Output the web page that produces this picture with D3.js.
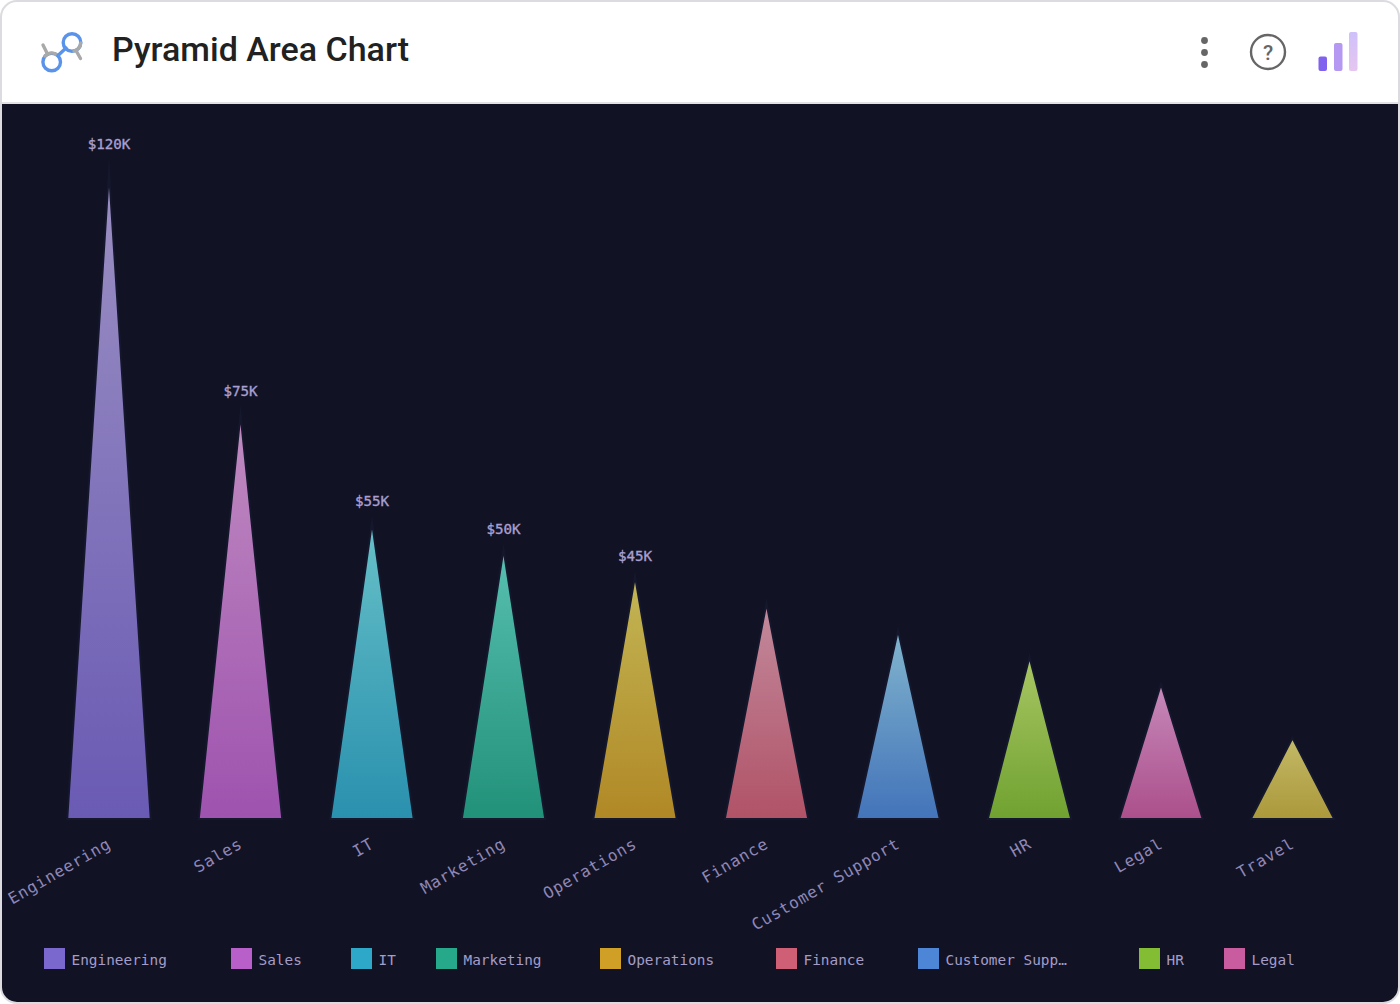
<!DOCTYPE html>
<html>
<head>
<meta charset="utf-8">
<script src="https://cdn.jsdelivr.net/npm/d3@7"></script>
<style>
html, body { margin: 0; padding: 0; background: #fff; }
svg { display: block; }
</style>
</head>
<body>
<svg id="chart" width="1400" height="1004"></svg>
<script>
const categories = ["Engineering", "Sales", "IT", "Marketing", "Operations", "Finance", "Customer Support", "HR", "Legal", "Travel"];
const budgets = [120, 75, 55, 50, 45, 40, 35, 30, 25, 15];
const colors = ["#7b68cf", "#b95fc9", "#2ea8c8", "#25a98a", "#cf9f26", "#cf5f74", "#4d86d6", "#82bd33", "#c95b9f", "#c9b23f"];
const tipColors = ["#a89bd0", "#cf96ce", "#6fd0d6", "#5fcfbd", "#d2c45a", "#d295a8", "#8cc4dc", "#b7d66a", "#d695c8", "#d2c86e"];
const labelledCount = 5;
const legendNames = ["Engineering", "Sales", "IT", "Marketing", "Operations", "Finance", "Customer Supp…", "HR", "Legal"];
const legendOffsets = [44, 231, 351, 436, 600, 776, 918, 1139, 1224];

const svg = d3.select("#chart");
const mono = "'DejaVu Sans Mono', monospace";
const defs = svg.append("defs");

// Card with a white header and dark plot panel
svg.append("rect").attr("x", 1).attr("y", 1).attr("width", 1398).attr("height", 1002).attr("rx", 16)
  .attr("fill", "#fff").attr("stroke", "#dcdce0").attr("stroke-width", 2);
defs.append("clipPath").attr("id", "panelClip").append("rect")
  .attr("x", 2).attr("y", 2).attr("width", 1396).attr("height", 1000).attr("rx", 15);
const panel = svg.append("g").attr("clip-path", "url(#panelClip)");
panel.append("rect").attr("x", 2).attr("y", 102).attr("width", 1396).attr("height", 2).attr("fill", "#e2e2e6");
panel.append("rect").attr("x", 2).attr("y", 104).attr("width", 1396).attr("height", 900).attr("fill", "#111324");

// Header: title, logo, menu dots, help badge, bars badge
svg.append("text").attr("x", 112).attr("y", 61).attr("font-family", "Roboto, sans-serif")
  .attr("font-size", 34).attr("font-weight", 500).attr("fill", "#212121").text("Pyramid Area Chart");

const logo = svg.append("g").attr("fill", "none").attr("stroke-width", 3.4).attr("stroke-linecap", "round");
logo.append("circle").attr("cx", 72).attr("cy", 42.5).attr("r", 8.8).attr("stroke", "#5a93ea");
logo.append("circle").attr("cx", 51.7).attr("cy", 62).attr("r", 8.8).attr("stroke", "#5a93ea");
logo.append("path").attr("d", "M43 45L47.5 54M45 56A8.8 8.8 0 0 1 56 54.3").attr("stroke", "#a9a9a9");
logo.append("path").attr("d", "M76 50.5L80.5 58.5M80.7 43A8.8 8.8 0 0 1 74 51").attr("stroke", "#a9a9a9");
logo.append("path").attr("d", "M58 55.5L66 48").attr("stroke", "#5a93ea");

svg.append("g").attr("fill", "#666").selectAll("circle").data([40.5, 52.5, 64.5]).join("circle")
  .attr("cx", 1204.5).attr("cy", d => d).attr("r", 3.4);
svg.append("circle").attr("cx", 1268).attr("cy", 52).attr("r", 17).attr("fill", "none").attr("stroke", "#666").attr("stroke-width", 2.4);
svg.append("text").attr("x", 1268).attr("y", 59.5).attr("text-anchor", "middle").attr("font-family", "Roboto, sans-serif")
  .attr("font-size", 21).attr("font-weight", 500).attr("fill", "#666").text("?");

const badge = defs.append("linearGradient").attr("id", "badgeTall").attr("x1", 0).attr("x2", 0).attr("y1", 0).attr("y2", 1);
badge.append("stop").attr("offset", "0%").attr("stop-color", "#cfc0fa");
badge.append("stop").attr("offset", "100%").attr("stop-color", "#e6c6f0");
[[1318.5, 56.5, 8.5, 14.5, "#8062ee"], [1334, 43, 8.5, 28, "#b598f2"], [1349, 32, 8.5, 39, "url(#badgeTall)"]].forEach(b => {
  svg.append("rect").attr("x", b[0]).attr("y", b[1]).attr("width", b[2]).attr("height", b[3]).attr("rx", 2).attr("fill", b[4]);
});

// Pyramid marks: the outline is painted over the fill, so it trims each visible tip
const x = d3.scaleBand().domain(categories).range([43.25, 1358.25]).paddingInner(0.365).paddingOuter(0.1825);
const y = d3.scaleLinear().domain([0, 120]).range([819, 172]);
const labelY = d3.scaleLinear().domain([0, 120]).range([808.5, 149]);

categories.forEach((c, i) => {
  const g = defs.append("linearGradient").attr("id", "pyr" + i).attr("gradientUnits", "userSpaceOnUse")
    .attr("x1", 0).attr("x2", 0).attr("y1", y(budgets[i])).attr("y2", y(0));
  g.append("stop").attr("offset", "0%").attr("stop-color", tipColors[i]).attr("stop-opacity", 0.92);
  g.append("stop").attr("offset", "100%").attr("stop-color", colors[i]).attr("stop-opacity", 0.84);
});

const outline = d => {
  const cx = x(d.c) + x.bandwidth() / 2, half = x.bandwidth() / 2;
  return d3.line()([[cx - half, y(0)], [cx, y(d.v)], [cx + half, y(0)]]) + "Z";
};
const rows = categories.map((c, i) => ({ c, v: budgets[i], i }));

svg.append("g").selectAll("path").data(rows).join("path")
  .attr("d", outline)
  .attr("fill", d => `url(#pyr${d.i})`)
  .attr("stroke", "#15182d").attr("stroke-width", 2).attr("stroke-linejoin", "miter").attr("stroke-miterlimit", 40);

// Value labels on the leading categories
svg.append("g").selectAll("text").data(rows.slice(0, labelledCount)).join("text")
  .attr("x", d => x(d.c) + x.bandwidth() / 2)
  .attr("y", d => labelY(d.v))
  .attr("text-anchor", "middle").attr("font-family", mono).attr("font-size", 14.2)
  .attr("fill", "#a99fd0").attr("stroke", "#a99fd0").attr("stroke-width", 0.35).text(d => `$${d.v}K`);

// Slanted category axis labels
svg.append("g").selectAll("text").data(rows).join("text")
  .attr("transform", d => `translate(${x(d.c) + x.bandwidth() / 2 + 3},847) rotate(-30)`)
  .attr("text-anchor", "end").attr("font-family", mono).attr("font-size", 16).attr("letter-spacing", 0.85)
  .attr("fill", "#8f87b8").text(d => d.c);

// Legend row
const legend = svg.append("g").selectAll("g").data(legendNames).join("g")
  .attr("transform", (d, i) => `translate(${legendOffsets[i]},948)`);
legend.append("rect").attr("width", 21).attr("height", 21).attr("fill", (d, i) => colors[i]);
legend.append("text").attr("x", 27.5).attr("y", 17).attr("font-family", mono).attr("font-size", 14.4)
  .attr("fill", "#a59cc8").text(d => d);
</script>
</body>
</html>
